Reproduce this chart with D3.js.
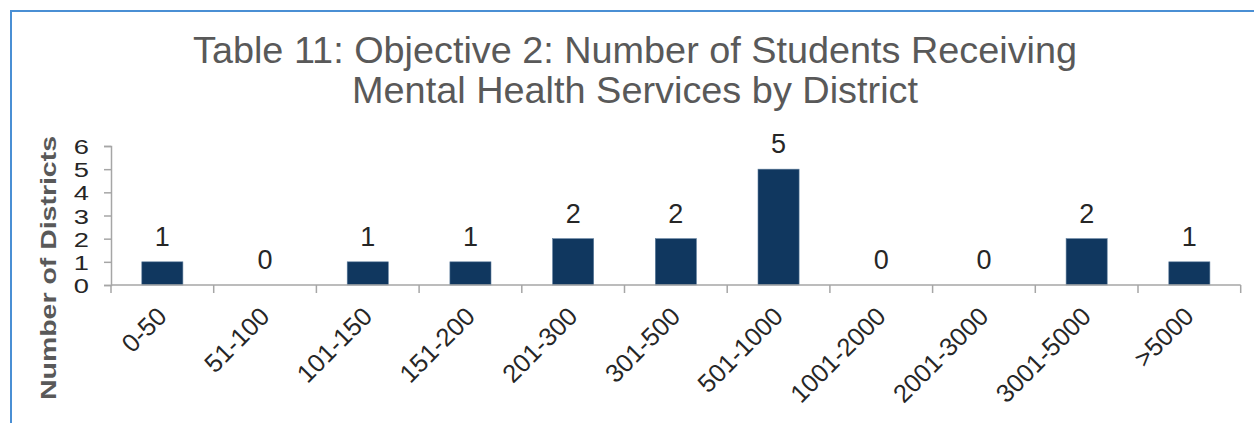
<!DOCTYPE html>
<html><head><meta charset="utf-8">
<script src="https://cdn.jsdelivr.net/npm/d3@7"></script>
<style>body{margin:0;background:#fff;}svg{display:block;font-family:Arial,"Liberation Sans",sans-serif;}</style>
</head><body>
<svg id="chart" width="1254" height="423"></svg>
<script>
const categories = ["0-50","51-100","101-150","151-200","201-300","301-500","501-1000","1001-2000","2001-3000","3001-5000",">5000"];
const values = [1,0,1,1,2,2,5,0,0,2,1];
const yTicks = [0,1,2,3,4,5,6];
const titleLines = ["Table 11: Objective 2: Number of Students Receiving","Mental Health Services by District"];
const yTitle = "Number of Districts";

const svg = d3.select("#chart");
svg.append("rect").attr("x",11).attr("y",11).attr("width",1300).attr("height",500)
  .attr("fill","none").attr("stroke","#4a8fd4").attr("stroke-width",2);

const m = {left:111, right:1240.7, top:146, bottom:285};
const x = d3.scaleBand().domain(categories).range([m.left,m.right]).paddingInner(0.6).paddingOuter(0.3);
const y = d3.scaleLinear().domain([0,6]).range([m.bottom,m.top]);

// title
const tl = [{t:titleLines[0], y:62.5, w:884},{t:titleLines[1], y:103, w:566}];
svg.selectAll("text.title").data(tl).enter().append("text").attr("class","title")
  .attr("x",635).attr("y",d=>d.y).attr("text-anchor","middle")
  .attr("font-size",36).attr("fill","#595959")
  .attr("textLength",d=>d.w).attr("lengthAdjust","spacingAndGlyphs")
  .text(d=>d.t);

// bars
svg.selectAll("rect.bar").data(values).enter().append("rect").attr("class","bar")
  .attr("x",(d,i)=>x(categories[i])).attr("width",x.bandwidth())
  .attr("y",d=>y(d)).attr("height",d=>y(0)-y(d))
  .attr("fill","#10375f").attr("stroke","#5d7c9c").attr("stroke-width",0.6);

// value labels
svg.selectAll("text.val").data(values).enter().append("text").attr("class","val")
  .attr("x",(d,i)=>x(categories[i])+x.bandwidth()/2).attr("y",d=>y(d)-16)
  .attr("text-anchor","middle").attr("font-size",27).attr("fill","#262626")
  .text(d=>d);

// y axis
const yAxis = d3.axisLeft(y).tickValues(yTicks).tickSize(7).tickFormat(d3.format("d"));
const gy = svg.append("g").attr("transform",`translate(${m.left},0)`).call(yAxis);
gy.select(".domain").attr("stroke","#a6a6a6").attr("stroke-width",1.5);
gy.selectAll(".tick line").attr("stroke","#a6a6a6").attr("stroke-width",1.5);
gy.selectAll(".tick text")
  .attr("x",0).attr("dy",null)
  .attr("transform","translate(-22,7.5) scale(1.3,1)")
  .attr("font-size",21).attr("fill","#262626").attr("font-family","Arial, 'Liberation Sans', sans-serif");

// x axis line
const gx = svg.append("g");
gx.append("line").attr("x1",m.left).attr("x2",m.right).attr("y1",y(0)).attr("y2",y(0))
  .attr("stroke","#a6a6a6").attr("stroke-width",1.5);
const bounds = categories.map(c=>x(c)-x.step()*x.paddingInner()/2).concat([m.right]);
bounds[0]=m.left;
gx.selectAll("line.tk").data(bounds).enter().append("line").attr("class","tk")
  .attr("x1",d=>d).attr("x2",d=>d).attr("y1",y(0)).attr("y2",y(0)+8)
  .attr("stroke","#a6a6a6").attr("stroke-width",1.5);

// category labels
svg.selectAll("text.cat").data(categories).enter().append("text").attr("class","cat")
  .attr("transform",d=>`translate(${x(d)+x.bandwidth()/2+6},${y(0)+33}) rotate(-45)`)
  .attr("text-anchor","end").attr("font-size",25.5).attr("fill","#262626")
  .text(d=>d);

// y title
svg.append("text").attr("transform","translate(56,268) rotate(-90)")
  .attr("text-anchor","middle").attr("font-size",21.5).attr("font-weight","bold").attr("fill","#595959")
  .attr("textLength",264).attr("lengthAdjust","spacingAndGlyphs")
  .text(yTitle);
</script>
</body></html>
